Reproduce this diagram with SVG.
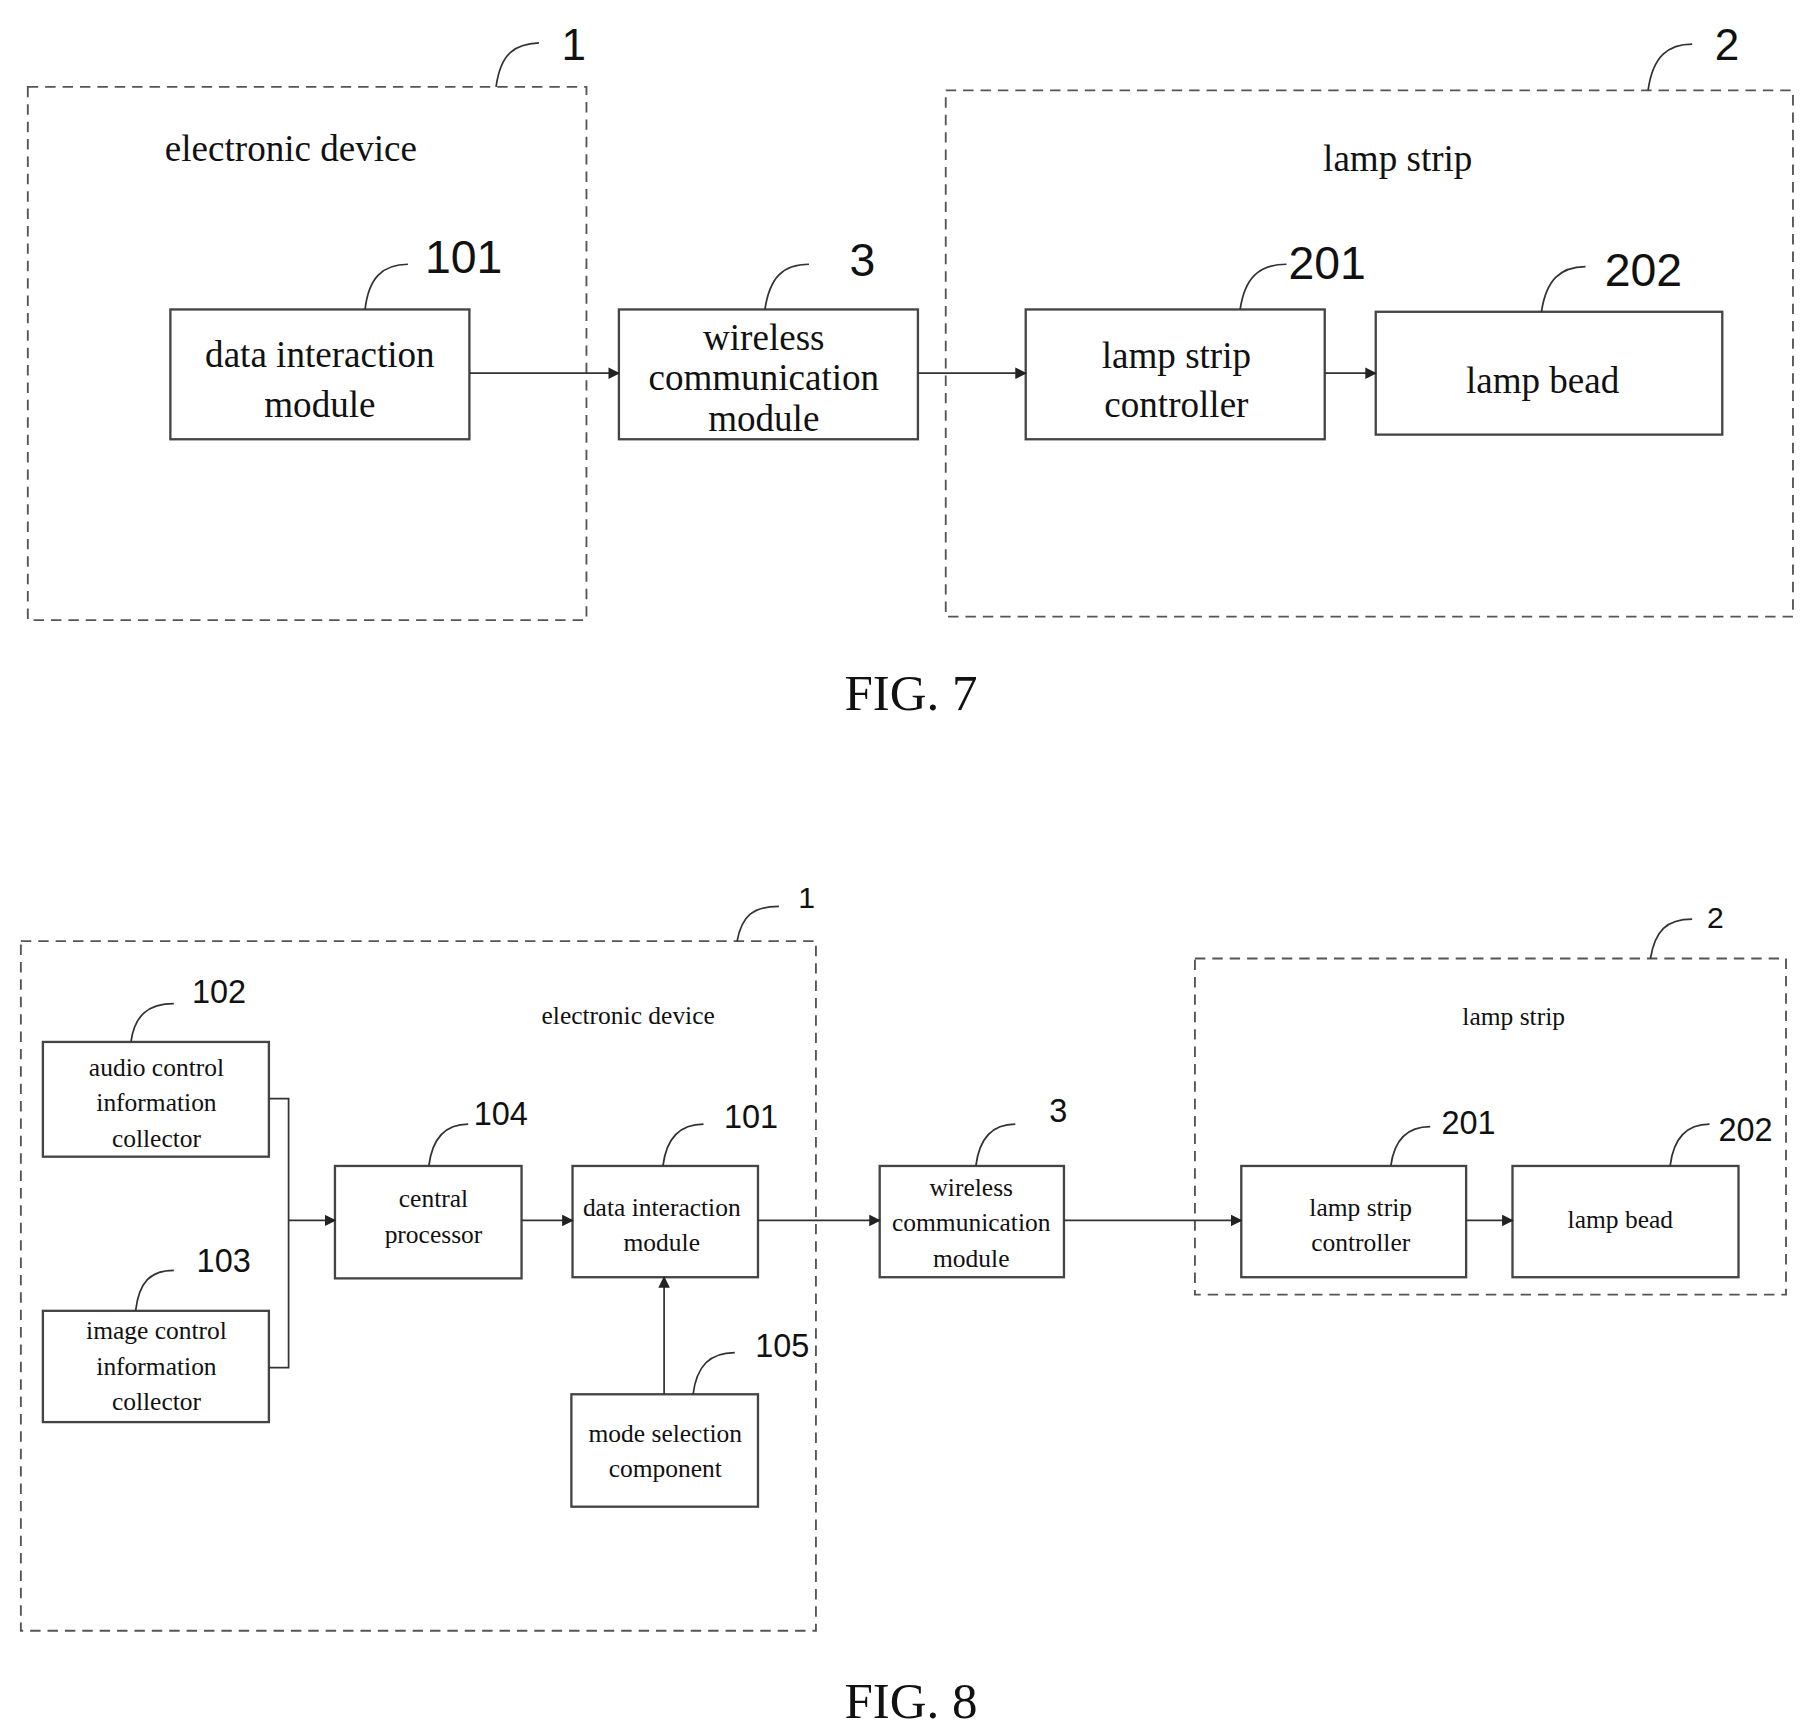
<svg xmlns="http://www.w3.org/2000/svg" width="1808" height="1732" viewBox="0 0 1808 1732">
<defs>
<style>
.d{fill:none;stroke:#555;stroke-width:1.6;stroke-dasharray:9 6}
.b{fill:#fff;stroke:#444;stroke-width:2}
.l{fill:none;stroke:#333;stroke-width:1.5}
.c{fill:none;stroke:#333;stroke-width:1.5}
text{font-family:"Liberation Serif",serif;fill:#111;text-anchor:middle;dominant-baseline:central}
.n{font-family:"Liberation Sans",sans-serif}
.t7{font-size:32px}.t8{font-size:22px}
</style>
<marker id="a" markerWidth="10" markerHeight="10" refX="9" refY="5" orient="auto" markerUnits="userSpaceOnUse"><path d="M0,0 L10,5 L0,10 z" fill="#222"/></marker>
</defs>
<rect width="1808" height="1732" fill="#fff"/>
<g transform="scale(1.159)">
<g id="fig7">
<g id="g1"><rect class="d" x="24" y="75" width="482" height="460"/><text class="t7" x="251" y="128">electronic device</text><path class="l" d="M428,75 C432,45 445,38 465,37"/><text class="n" x="495" y="38" font-size="38">1</text></g>
<g id="g2"><rect class="d" x="816" y="78" width="731" height="454"/><text class="t7" x="1206" y="137">lamp strip</text><path class="l" d="M1422,78 C1426,48 1440,38 1460,38"/><text class="n" x="1490" y="38" font-size="38">2</text></g>
<g id="n101"><rect class="b" x="147" y="267" width="258" height="112"/><text class="t7" x="276" y="306">data interaction</text><text class="t7" x="276" y="349">module</text><path class="l" d="M315,267 C318,240 330,228 352,228"/><text class="n" x="400" y="222" font-size="40">101</text></g>
<g id="n3"><rect class="b" x="534" y="267" width="258" height="112"/><text class="t7" x="659" y="291">wireless</text><text class="t7" x="659" y="326">communication</text><text class="t7" x="659" y="361">module</text><path class="l" d="M660,267 C664,240 675,228 698,228"/><text class="n" x="744" y="224" font-size="40">3</text></g>
<g id="n201"><rect class="b" x="885" y="267" width="258" height="112"/><text class="t7" x="1015" y="307">lamp strip</text><text class="t7" x="1015" y="349">controller</text><path class="l" d="M1070,267 C1074,240 1086,228 1110,228"/><text class="n" x="1145" y="227" font-size="40">201</text></g>
<g id="n202"><rect class="b" x="1187" y="269" width="299" height="106"/><text class="t7" x="1331" y="328">lamp bead</text><path class="l" d="M1330,269 C1334,242 1346,230 1368,230"/><text class="n" x="1418" y="233" font-size="40">202</text></g>
<g id="c7"><path class="c" d="M405,322 H534" marker-end="url(#a)"/><path class="c" d="M792,322 H885" marker-end="url(#a)"/><path class="c" d="M1143,322 H1187" marker-end="url(#a)"/></g>
<text x="786" y="598" font-size="44">FIG. 7</text>
</g>
<g id="fig8">
<g id="h1"><rect class="d" x="18" y="812" width="686" height="595"/><text class="t8" x="542" y="876">electronic device</text><path class="l" d="M636,812 C640,790 650,782 672,782"/><text class="n" x="696" y="774" font-size="26">1</text></g>
<g id="h2"><rect class="d" x="1031" y="827" width="510" height="290"/><text class="t8" x="1306" y="877">lamp strip</text><path class="l" d="M1424,827 C1428,803 1438,793 1460,793"/><text class="n" x="1480" y="792" font-size="26">2</text></g>
<g id="m102"><rect class="b" x="37" y="899" width="195" height="99"/><text class="t8" x="135" y="921">audio control</text><text class="t8" x="135" y="951">information</text><text class="t8" x="135" y="982">collector</text><path class="l" d="M113,899 C116,876 128,866 150,866"/><text class="n" x="189" y="856" font-size="28">102</text></g>
<g id="m103"><rect class="b" x="37" y="1131" width="195" height="96"/><text class="t8" x="135" y="1148">image control</text><text class="t8" x="135" y="1179">information</text><text class="t8" x="135" y="1209">collector</text><path class="l" d="M117,1131 C120,1106 130,1096 150,1096"/><text class="n" x="193" y="1088" font-size="28">103</text></g>
<g id="m104"><rect class="b" x="289" y="1006" width="161" height="97"/><text class="t8" x="374" y="1034">central</text><text class="t8" x="374" y="1065">processor</text><path class="l" d="M370,1006 C373,982 384,970 404,970"/><text class="n" x="432" y="961" font-size="28">104</text></g>
<g id="m101"><rect class="b" x="494" y="1006" width="160" height="96"/><text class="t8" x="571" y="1042">data interaction</text><text class="t8" x="571" y="1072">module</text><path class="l" d="M572,1006 C575,982 586,970 607,970"/><text class="n" x="648" y="964" font-size="28">101</text></g>
<g id="m105"><rect class="b" x="493" y="1203" width="161" height="97"/><text class="t8" x="574" y="1237">mode selection</text><text class="t8" x="574" y="1267">component</text><path class="l" d="M598,1203 C601,1179 612,1167 634,1167"/><text class="n" x="675" y="1161" font-size="28">105</text></g>
<g id="m3"><rect class="b" x="759" y="1006" width="159" height="96"/><text class="t8" x="838" y="1025">wireless</text><text class="t8" x="838" y="1055">communication</text><text class="t8" x="838" y="1086">module</text><path class="l" d="M842,1006 C845,982 856,970 876,970"/><text class="n" x="913" y="959" font-size="28">3</text></g>
<g id="m201"><rect class="b" x="1071" y="1006" width="194" height="96"/><text class="t8" x="1174" y="1042">lamp strip</text><text class="t8" x="1174" y="1072">controller</text><path class="l" d="M1200,1006 C1203,983 1214,972 1234,972"/><text class="n" x="1267" y="969" font-size="28">201</text></g>
<g id="m202"><rect class="b" x="1305" y="1006" width="195" height="96"/><text class="t8" x="1398" y="1052">lamp bead</text><path class="l" d="M1441,1006 C1444,982 1455,970 1475,970"/><text class="n" x="1506" y="975" font-size="28">202</text></g>
<g id="c8">
<path class="c" d="M232,948 H249 V1180 H232"/>
<path class="c" d="M249,1053 H289" marker-end="url(#a)"/>
<path class="c" d="M450,1053 H494" marker-end="url(#a)"/>
<path class="c" d="M654,1053 H759" marker-end="url(#a)"/>
<path class="c" d="M918,1053 H1071" marker-end="url(#a)"/>
<path class="c" d="M1265,1053 H1305" marker-end="url(#a)"/>
<path class="c" d="M573,1203 V1102" marker-end="url(#a)"/>
</g>
<text x="786" y="1468" font-size="44">FIG. 8</text>
</g>
</g>
</svg>
